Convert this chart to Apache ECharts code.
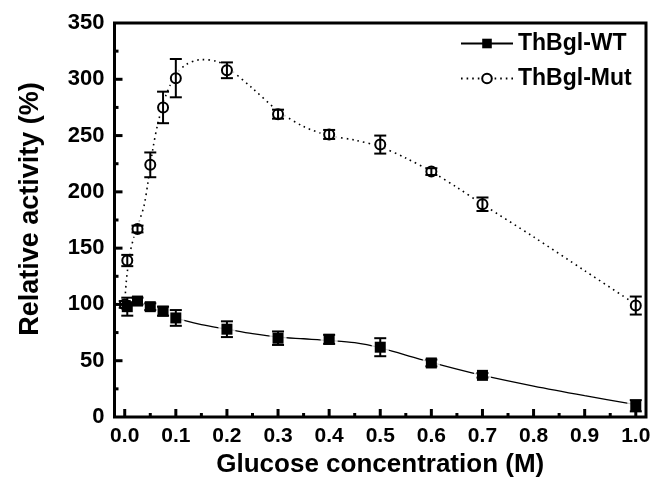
<!DOCTYPE html>
<html>
<head>
<meta charset="utf-8">
<script src="https://cdn.jsdelivr.net/npm/echarts@6/dist/echarts.min.js"></script>
<style>html,body{margin:0;padding:0;background:#fff}#c{width:656px;height:483px}</style>
</head>
<body>
<div id="c"></div>
<script>
// ---- data ----
const xTicks = ['0.0','0.1','0.2','0.3','0.4','0.5','0.6','0.7','0.8','0.9','1.0'];
const yTicks = ['0','50','100','150','200','250','300','350'];
const xMajorTicks = [0, 0.1, 0.2, 0.3, 0.4, 0.5, 0.6, 0.7, 0.8, 0.9, 1.0];
const xMinorTicks = [0.05, 0.15, 0.25, 0.35, 0.45, 0.55, 0.65, 0.75, 0.85, 0.95];
const yMajorTicks = [50, 100, 150, 200, 250, 300];
const yMinorTicks = [25, 75, 125, 175, 225, 275, 325];

const wtX   = [0.005, 0.025, 0.05, 0.075, 0.1, 0.2, 0.3, 0.4, 0.5, 0.6, 0.7, 1.0];
const wtY   = [98, 103, 98, 94, 88, 78, 70, 69, 62, 48, 37, 10];
const wtErr = [8, 3, 3, 4, 7, 7, 6, 4, 8, 3, 2, 5];

const mutX   = [0, 0.005, 0.025, 0.05, 0.075, 0.1, 0.2, 0.3, 0.4, 0.5, 0.6, 0.7, 1.0];
const mutY   = [100, 139, 167, 224, 275, 301, 308, 269, 251, 242, 218, 189, 99];
const mutErr = [3, 5, 3, 11, 14, 17, 7, 4, 4, 8, 3, 6, 8];

// fitted curves
const wtCurveX = [0.005, 0.025, 0.05, 0.075, 0.1, 0.15, 0.2, 0.25, 0.3, 0.35, 0.4, 0.45, 0.5, 0.55, 0.6, 0.65, 0.7, 0.8, 0.9, 1.0];
const wtCurveY = [98, 101, 98, 93.5, 88, 82, 78, 74, 71, 69.5, 68, 66, 61.5, 55, 48.5, 42.5, 37, 27.5, 19, 11];
const mutCurveX = [0, 0.003, 0.01, 0.02, 0.03, 0.038, 0.045, 0.055, 0.065, 0.08, 0.1, 0.12, 0.15, 0.18, 0.2, 0.25, 0.3, 0.35, 0.4, 0.45, 0.5, 0.55, 0.6, 0.65, 0.7, 0.8, 0.9, 1.0];
const mutCurveY = [100, 120, 145, 163, 176, 188, 207, 238, 261, 285, 304, 313, 317.5, 316, 311, 292, 272, 258, 250, 246, 240, 230, 218, 204, 189, 160, 130, 100];

const seriesNames = ['ThBgl-WT', 'ThBgl-Mut'];
const xTitle = 'Glucose concentration (M)';
const yTitle = 'Relative activity (%)';

// ---- chart ----
const zip2 = (a, b) => a.map((v, i) => [v, b[i]]);
const zip3 = (a, b, c) => a.map((v, i) => [v, b[i], c[i]]);
const FONT = '"Liberation Sans", Arial, sans-serif';
const XMIN = -0.02, XMAX = 1.02, YMIN = 0, YMAX = 350;
const G = {left: 114.5, right: 10, top: 23, bottom: 66};
const plotW = 656 - G.left - G.right;
const g2Left = G.left + plotW * (0 - XMIN) / (XMAX - XMIN);
const g2Right = 656 - (G.left + plotW * (1 - XMIN) / (XMAX - XMIN));

function errRender(params, api) {
  const x = api.value(0), y = api.value(1), e = api.value(2);
  const hi = api.coord([x, y + e]);
  const lo = api.coord([x, y - e]);
  const w = 6;
  const st = {stroke: '#000', lineWidth: 2};
  return {type: 'group', children: [
    {type: 'line', shape: {x1: hi[0], y1: hi[1], x2: lo[0], y2: lo[1]}, style: st},
    {type: 'line', shape: {x1: hi[0] - w, y1: hi[1], x2: hi[0] + w, y2: hi[1]}, style: st},
    {type: 'line', shape: {x1: lo[0] - w, y1: lo[1], x2: lo[0] + w, y2: lo[1]}, style: st}
  ]};
}
function frameRender(params, api) {
  const p0 = api.coord([api.value(0), api.value(1)]);
  const p1 = api.coord([api.value(2), api.value(3)]);
  return {type: 'rect',
    shape: {x: p0[0], y: p1[1], width: p1[0] - p0[0], height: p0[1] - p1[1]},
    style: {stroke: '#000', fill: 'none', lineWidth: 3}};
}
const xTickRender = (len) => (params, api) => {
  const p = api.coord([api.value(0), api.value(1)]);
  return {type: 'line', shape: {x1: p[0], y1: p[1], x2: p[0], y2: p[1] - len},
    style: {stroke: '#000', lineWidth: 3}};
};
const yTickRender = (len) => (params, api) => {
  const p = api.coord([api.value(0), api.value(1)]);
  return {type: 'line', shape: {x1: p[0], y1: p[1], x2: p[0] + len, y2: p[1]},
    style: {stroke: '#000', lineWidth: 3}};
};

const off = () => ({axisLine: {show: false, onZero: false}, axisTick: {show: false}, axisLabel: {show: false}, splitLine: {show: false}});
const chart = echarts.init(document.getElementById('c'), null, {renderer: 'canvas'});
chart.setOption({
  animation: false,
  grid: [
    {left: G.left, right: G.right, top: G.top, bottom: G.bottom},   // data grid
    {left: g2Left, right: g2Right, top: G.top, bottom: G.bottom}    // x labels
  ],
  legend: {
    data: seriesNames, orient: 'vertical', left: 455, top: 27,
    itemWidth: 52, itemHeight: 12, itemGap: 12,
    textStyle: {fontFamily: FONT, fontWeight: 'bold', fontSize: 23, color: '#000'}
  },
  xAxis: [
    Object.assign({gridIndex: 0, type: 'value', min: XMIN, max: XMAX}, off()),
    {gridIndex: 1, type: 'value', min: 0, max: 1, interval: 0.1, position: 'bottom',
     axisLine: {show: false, onZero: false}, axisTick: {show: false},
     axisLabel: {margin: 9, fontFamily: FONT, fontWeight: 'bold', fontSize: 21, color: '#000',
       formatter: (v) => xTicks[Math.round(v * 10)]},
     splitLine: {show: false},
     name: xTitle, nameLocation: 'middle', nameGap: 31,
     nameTextStyle: {fontFamily: FONT, fontWeight: 'bold', fontSize: 26, color: '#000'}}
  ],
  yAxis: [
    {gridIndex: 0, type: 'value', min: YMIN, max: YMAX, interval: 50, position: 'left',
     axisLine: {show: false, onZero: false}, axisTick: {show: false},
     axisLabel: {margin: 10, fontFamily: FONT, fontWeight: 'bold', fontSize: 22, color: '#000',
       formatter: (v) => yTicks[Math.round(v / 50)]},
     splitLine: {show: false},
     name: yTitle, nameLocation: 'middle', nameGap: 70, nameRotate: 90,
     nameTextStyle: {fontFamily: FONT, fontWeight: 'bold', fontSize: 27, color: '#000', padding: [0, 0, 0, 22]}},
    Object.assign({gridIndex: 1, type: 'value', min: YMIN, max: YMAX}, off())
  ],
  series: [
    {name: seriesNames[0], type: 'line', xAxisIndex: 0, yAxisIndex: 0,
     data: zip2(wtCurveX, wtCurveY), smooth: 0.3, symbol: 'rect', showSymbol: false,
     itemStyle: {color: '#000'}, lineStyle: {color: '#000', width: 1.3, type: 'solid'}, z: 1, silent: true},
    {name: seriesNames[1], type: 'line', xAxisIndex: 0, yAxisIndex: 0,
     data: zip2(mutCurveX, mutCurveY), smooth: 0.3, symbol: 'emptyCircle', showSymbol: false,
     itemStyle: {color: '#000'}, lineStyle: {color: '#000', width: 1.6, type: [1.6, 4]}, z: 1, silent: true},
    // white halos around markers
    {type: 'scatter', xAxisIndex: 0, yAxisIndex: 0, data: zip2(mutX, mutY), symbol: 'circle', symbolSize: 18,
     itemStyle: {color: '#fff'}, z: 2, silent: true},
    {type: 'scatter', xAxisIndex: 0, yAxisIndex: 0, data: zip2(wtX, wtY), symbol: 'rect', symbolSize: 17,
     itemStyle: {color: '#fff'}, z: 2, silent: true},
    // markers
    {type: 'scatter', xAxisIndex: 0, yAxisIndex: 0, data: zip2(mutX, mutY), symbol: 'circle', symbolSize: 10,
     itemStyle: {color: '#fff', borderColor: '#000', borderWidth: 2, opacity: 1}, z: 3, silent: true},
    {type: 'custom', xAxisIndex: 0, yAxisIndex: 0, data: zip3(mutX, mutY, mutErr), renderItem: errRender,
     encode: {x: 0, y: 1}, z: 4, silent: true},
    {type: 'scatter', xAxisIndex: 0, yAxisIndex: 0, data: zip2(wtX, wtY), symbol: 'rect', symbolSize: 11,
     itemStyle: {color: '#000', opacity: 1}, z: 5, silent: true},
    {type: 'custom', xAxisIndex: 0, yAxisIndex: 0, data: zip3(wtX, wtY, wtErr), renderItem: errRender,
     encode: {x: 0, y: 1}, z: 6, silent: true},
    // frame and inward ticks, placed through the axes' scales
    {type: 'custom', xAxisIndex: 0, yAxisIndex: 0, data: [[XMIN, YMIN, XMAX, YMAX]], renderItem: frameRender,
     encode: {x: [0, 2], y: [1, 3]}, clip: false, z: 10, silent: true},
    {type: 'custom', xAxisIndex: 0, yAxisIndex: 0, data: xMajorTicks.map(v => [v, YMIN]), renderItem: xTickRender(8),
     encode: {x: 0, y: 1}, clip: false, z: 10, silent: true},
    {type: 'custom', xAxisIndex: 0, yAxisIndex: 0, data: xMinorTicks.map(v => [v, YMIN]), renderItem: xTickRender(4),
     encode: {x: 0, y: 1}, clip: false, z: 10, silent: true},
    {type: 'custom', xAxisIndex: 0, yAxisIndex: 0, data: yMajorTicks.map(v => [XMIN, v]), renderItem: yTickRender(8),
     encode: {x: 0, y: 1}, clip: false, z: 10, silent: true},
    {type: 'custom', xAxisIndex: 0, yAxisIndex: 0, data: yMinorTicks.map(v => [XMIN, v]), renderItem: yTickRender(4),
     encode: {x: 0, y: 1}, clip: false, z: 10, silent: true}
  ]
});
</script>
</body>
</html>
